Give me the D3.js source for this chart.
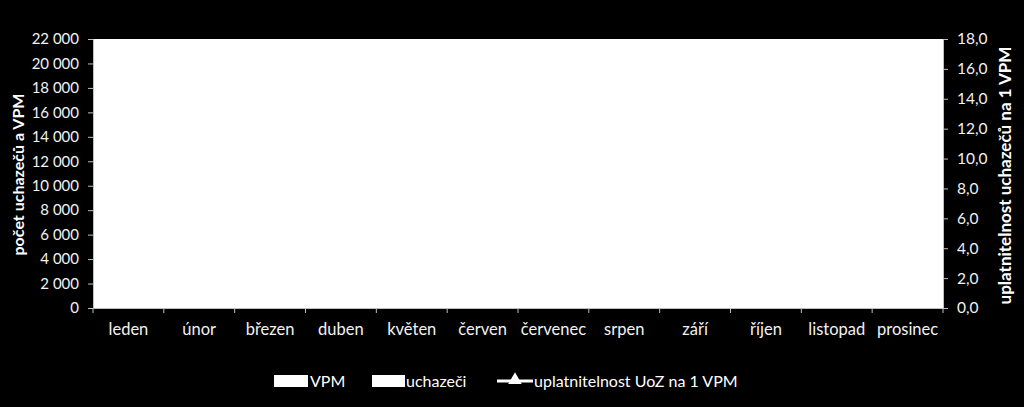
<!DOCTYPE html>
<html>
<head>
<meta charset="utf-8">
<script src="https://cdn.jsdelivr.net/npm/d3@7"></script>
<style>
  body { margin: 0; background: #000; }
  svg { display: block; }
</style>
</head>
<body>
<div id="chart"></div>
<script>
// months
const months = ["leden", "únor", "březen", "duben", "květen", "červen",
                "červenec", "srpen", "září", "říjen", "listopad", "prosinec"];
// values (white on white in the original, so estimated)
const vpm = [1420, 1480, 1560, 1610, 1650, 1590, 1540, 1500, 1470, 1430, 1400, 1380];
const uchazeci = [19800, 20100, 19600, 18700, 17900, 17600, 18100, 18300, 17800, 17500, 17700, 18600];
const uplatnitelnost = [13.9, 13.6, 12.6, 11.6, 10.8, 11.1, 11.8, 12.2, 12.1, 12.2, 12.6, 13.5];
const leftTicks = d3.range(0, 22001, 2000);
const rightTicks = d3.range(0, 18.01, 2);

const width = 1024, height = 407;
const margin = { top: 39, right: 81, bottom: 99, left: 93 };
const innerW = width - margin.left - margin.right;
const innerH = height - margin.top - margin.bottom;
const font = "Lato, 'Open Sans', sans-serif";

const svg = d3.select("#chart").append("svg")
    .attr("width", width)
    .attr("height", height)
    .attr("font-family", font)
    .style("background", "#000");

const g = svg.append("g")
    .attr("transform", `translate(${margin.left},${margin.top})`);

const x = d3.scaleBand().domain(months).range([0, innerW]);
const xs = d3.scaleBand().domain(["VPM", "uchazeči"]).range([0, x.bandwidth()]).paddingOuter(0.35).paddingInner(0.1);
const yL = d3.scaleLinear().domain([0, 22000]).range([innerH, 0]);
const yR = d3.scaleLinear().domain([0, 18]).range([innerH, 0]);

// plot area
g.append("rect")
    .attr("width", innerW)
    .attr("height", innerH)
    .attr("fill", "#fff");

// bars
const mg = g.selectAll("g.month")
    .data(months)
    .join("g")
    .attr("transform", m => `translate(${x(m)},0)`);

mg.append("rect")
    .attr("x", xs("VPM"))
    .attr("width", xs.bandwidth())
    .attr("y", (m, i) => yL(vpm[i]))
    .attr("height", (m, i) => innerH - yL(vpm[i]))
    .attr("fill", "#fff");

mg.append("rect")
    .attr("x", xs("uchazeči"))
    .attr("width", xs.bandwidth())
    .attr("y", (m, i) => yL(uchazeci[i]))
    .attr("height", (m, i) => innerH - yL(uchazeci[i]))
    .attr("fill", "#fff");

// line
const line = d3.line()
    .x((d, i) => x(months[i]) + x.bandwidth() / 2)
    .y(d => yR(d));

g.append("path")
    .datum(uplatnitelnost)
    .attr("d", line)
    .attr("fill", "none")
    .attr("stroke", "#fff")
    .attr("stroke-width", 2);

g.selectAll("path.mark")
    .data(uplatnitelnost)
    .join("path")
    .attr("class", "mark")
    .attr("d", d3.symbol(d3.symbolTriangle, 40))
    .attr("transform", (d, i) => `translate(${x(months[i]) + x.bandwidth() / 2},${yR(d)})`)
    .attr("fill", "#fff");

// axes
const axisColor = "#bfbfbf";
const leftAxis = g.append("g")
    .call(d3.axisLeft(yL).tickValues(leftTicks).tickSize(5).tickPadding(9)
        .tickFormat(d => d3.format(",")(d).replace(/,/g, " ")));
const rightAxis = g.append("g")
    .attr("transform", `translate(${innerW},0)`)
    .call(d3.axisRight(yR).tickValues(rightTicks).tickSize(5).tickPadding(9)
        .tickFormat(d => d3.format(".1f")(d).replace(".", ",")));
const bottomAxis = g.append("g")
    .attr("transform", `translate(0,${innerH})`)
    .call(d3.axisBottom(x).tickSize(0).tickPadding(15));

// band boundary ticks on x axis
g.append("g")
    .selectAll("line")
    .data(months.concat(["end"]))
    .join("line")
    .attr("x1", (m, i) => i < months.length ? x(m) : innerW)
    .attr("x2", (m, i) => i < months.length ? x(m) : innerW)
    .attr("y1", innerH)
    .attr("y2", innerH + 5)
    .attr("stroke", axisColor);

[leftAxis, rightAxis, bottomAxis].forEach(a => {
    a.select(".domain").attr("stroke", axisColor);
    a.selectAll(".tick line").attr("stroke", axisColor);
    a.selectAll("text")
        .attr("fill", "#f2f2f2")
        .attr("font-size", 15.5)
        .attr("font-family", font);
});
bottomAxis.selectAll("text").attr("font-size", 16.5);
leftAxis.selectAll("text").attr("font-size", 15).style("white-space", "pre");

// axis titles
svg.append("text")
    .attr("transform", `translate(24,${margin.top + innerH / 2 + 1}) rotate(-90)`)
    .attr("text-anchor", "middle")
    .attr("fill", "#fff")
    .attr("font-weight", "bold")
    .attr("font-size", 16)
    .text("počet uchazečů a VPM");

svg.append("text")
    .attr("transform", `translate(1011,${margin.top + innerH / 2 + 2}) rotate(-90)`)
    .attr("text-anchor", "middle")
    .attr("fill", "#fff")
    .attr("font-weight", "bold")
    .attr("font-size", 17)
    .text("uplatnitelnost uchazečů na 1 VPM");

// legend
const legendY = 381;
const legend = svg.append("g").attr("font-size", 16).attr("fill", "#fff");

legend.append("rect").attr("x", 274).attr("y", legendY - 6).attr("width", 34).attr("height", 12).attr("fill", "#fff");
legend.append("text").attr("x", 310).attr("y", legendY + 6).text("VPM");

legend.append("rect").attr("x", 372).attr("y", legendY - 6).attr("width", 33).attr("height", 12).attr("fill", "#fff");
legend.append("text").attr("x", 406).attr("y", legendY + 6).text("uchazeči");

legend.append("line").attr("x1", 497).attr("x2", 533).attr("y1", legendY).attr("y2", legendY)
    .attr("stroke", "#fff").attr("stroke-width", 3);
legend.append("path")
    .attr("d", d3.symbol(d3.symbolTriangle, 80))
    .attr("transform", `translate(515,${legendY - 1})`)
    .attr("fill", "#fff");
legend.append("text").attr("x", 534).attr("y", legendY + 6).text("uplatnitelnost UoZ na 1 VPM");
</script>
</body>
</html>
